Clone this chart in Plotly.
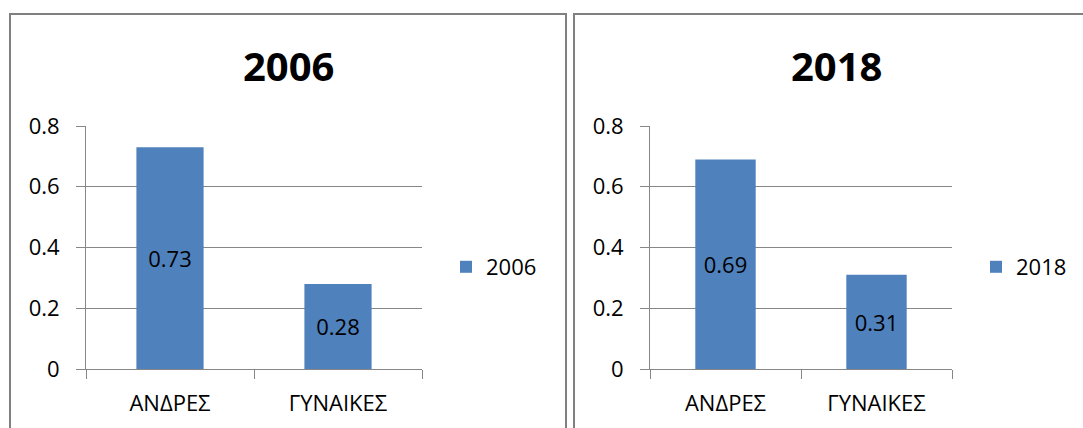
import plotly.graph_objects as go

W, H = 1083, 428

categories = ["ΑΝΔΡΕΣ", "ΓΥΝΑΙΚΕΣ"]
values_2006 = [0.73, 0.28]
values_2018 = [0.69, 0.31]
years = ["2006", "2018"]
y_ticks = [0, 0.2, 0.4, 0.6, 0.8]
y_tick_labels = ["0", "0.2", "0.4", "0.6", "0.8"]

BAR = "#4F81BD"
GRID = "#878787"
FONT = "Open Sans, Noto Sans, sans-serif"


def px_x(p):
    return p / W


def px_y(p):
    return 1 - p / H


fig = go.Figure()

for i, (year, vals) in enumerate(zip(years, [values_2006, values_2018])):
    sfx = "" if i == 0 else str(i + 1)
    fig.add_trace(go.Bar(
        x=categories, y=vals, name=year,
        xaxis="x" + sfx, yaxis="y" + sfx,
        legend="legend" + sfx,
        marker=dict(color=BAR, line=dict(width=0)),
        width=0.4,
        text=[f"{v:.2f}" for v in vals],
        textposition="inside", insidetextanchor="middle",
        textfont=dict(family=FONT, size=22, color="black"),
        showlegend=True,
    ))

axis_common_x = dict(
    type="category", showgrid=False, showline=True, linecolor=GRID, linewidth=1,
    ticks="outside", tickson="boundaries", ticklen=9, tickcolor=GRID,
    tickfont=dict(family=FONT, size=22, color="black"),
    ticklabelstandoff=15, fixedrange=True,
)
axis_common_y = dict(
    range=[0, 0.8], tickvals=y_ticks, ticktext=y_tick_labels,
    showgrid=True, gridcolor=GRID, gridwidth=1,
    showline=True, linecolor=GRID, linewidth=1,
    ticks="outside", ticklen=9, tickcolor=GRID, zeroline=False,
    tickfont=dict(family=FONT, size=22, color="black"),
    ticklabelstandoff=12, fixedrange=True,
)

y_dom = [px_y(369), px_y(126)]
fig.update_layout(
    width=W, height=H,
    margin=dict(l=0, r=0, t=0, b=0, autoexpand=False),
    paper_bgcolor="white", plot_bgcolor="white",
    bargap=0.6,
    xaxis=dict(domain=[px_x(86), px_x(422)], anchor="y", **axis_common_x),
    yaxis=dict(domain=y_dom, anchor="x", **axis_common_y),
    xaxis2=dict(domain=[px_x(650), px_x(952)], anchor="y2", **axis_common_x),
    yaxis2=dict(domain=y_dom, anchor="x2", **axis_common_y),
    legend=dict(x=px_x(446), y=px_y(267), xanchor="left", yanchor="middle",
                font=dict(family=FONT, size=22, color="black"),
                bgcolor="rgba(0,0,0,0)"),
    legend2=dict(x=px_x(976), y=px_y(267), xanchor="left", yanchor="middle",
                 font=dict(family=FONT, size=22, color="black"),
                 bgcolor="rgba(0,0,0,0)"),
    showlegend=True,
)

# Chart titles
for year, cx in zip(years, [288, 836]):
    fig.add_annotation(
        text=f"<b>{year}</b>", x=px_x(cx), y=px_y(66), xref="paper", yref="paper",
        showarrow=False, xanchor="center", yanchor="middle",
        font=dict(family=FONT, size=40, color="black"),
    )

# Panel frames
for x0, x1 in [(10, 566), (574, 1100)]:
    fig.add_shape(
        type="rect", xref="paper", yref="paper",
        x0=px_x(x0), x1=px_x(x1), y0=px_y(14), y1=px_y(440),
        line=dict(color="#808080", width=2), fillcolor="rgba(0,0,0,0)", layer="below",
    )

fig.write_html("out.html")
